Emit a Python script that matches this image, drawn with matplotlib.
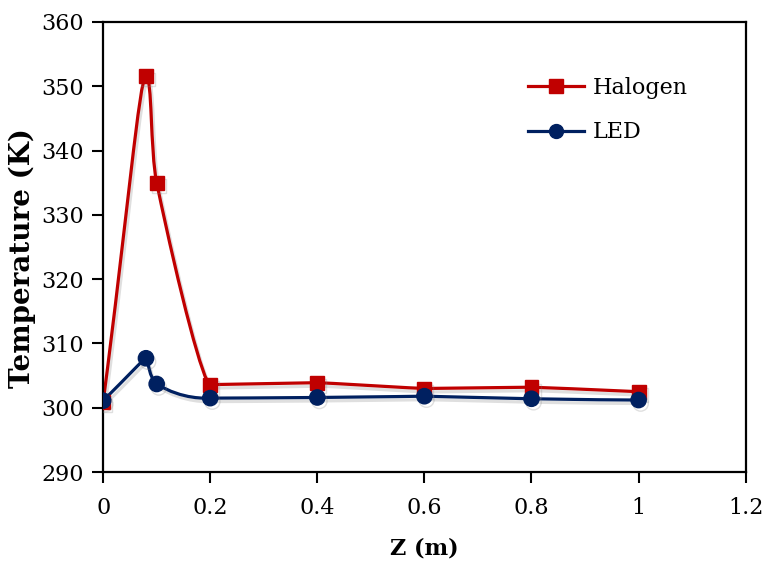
import numpy as np
import matplotlib
matplotlib.use("Agg")
import matplotlib.pyplot as plt
from matplotlib.path import Path
from matplotlib.patches import PathPatch
import matplotlib.patheffects as pe

# datos
z = [0, 0.08, 0.1, 0.2, 0.4, 0.6, 0.8, 1.0]
halogen = [300.9, 351.6, 335.0, 303.6, 303.9, 303.0, 303.2, 302.5]
led = [301.1, 307.7, 303.7, 301.5, 301.6, 301.8, 301.4, 301.2]

RED = "#C00000"
NAVY = "#002060"

plt.rcParams['font.family'] = ['DejaVu Serif']


def smooth_path(ax, x, y, f_out=0.55, f_in=0.3, f_ext=0.06):
    # curva suavizada tipo Excel (Bezier en píxeles); en extremos locales tangente horizontal corta
    pts = ax.transData.transform(np.column_stack([x, y]))
    n = len(pts)
    seg = [np.hypot(*(pts[i + 1] - pts[i])) for i in range(n - 1)]
    out_c, in_c = [], []
    for i in range(n):
        l_in = seg[i - 1] if i > 0 else 0
        l_out = seg[i] if i < n - 1 else 0
        if 0 < i < n - 1 and (y[i] - y[i - 1]) * (y[i + 1] - y[i]) < 0:
            m = f_ext * min(l_in, l_out)
            u = np.array([1.0, 0.0])
            in_c.append(u * m)
            out_c.append(u * m)
        else:
            d = pts[min(i + 1, n - 1)] - pts[max(i - 1, 0)]
            u = d / (np.hypot(*d) + 1e-9)
            in_c.append(u * f_in * l_in)
            out_c.append(u * f_out * l_out)
    verts = [pts[0]]
    codes = [Path.MOVETO]
    for i in range(n - 1):
        verts += [pts[i] + out_c[i], pts[i + 1] - in_c[i + 1], pts[i + 1]]
        codes += [Path.CURVE4] * 3
    verts = ax.transData.inverted().transform(np.array(verts))
    return Path(verts, codes)


fig = plt.figure(figsize=(7.64, 5.64), dpi=100)
ax = fig.add_axes([0.135, 0.163, 0.841, 0.798])
ax.set_xlim(0, 1.2)
ax.set_ylim(290, 360)

shadow = [pe.SimpleLineShadow(offset=(1.5, -2.5), shadow_color='gray', alpha=0.25), pe.Normal()]

for y, col in [(halogen, RED), (led, NAVY)]:
    patch = PathPatch(smooth_path(ax, z, y), facecolor='none', edgecolor=col,
                      lw=2.3, zorder=2, capstyle='round', joinstyle='round')
    patch.set_path_effects(shadow)
    ax.add_patch(patch)

ax.plot(z, halogen, linestyle='none', marker='s', ms=10, color=RED, zorder=3,
        path_effects=shadow)
ax.plot(z, led, linestyle='none', marker='o', ms=11, color=NAVY, zorder=4,
        path_effects=shadow)

# manejadores de leyenda con línea
l1, = ax.plot([], [], '-s', color=RED, lw=2.3, ms=10)
l2, = ax.plot([], [], '-o', color=NAVY, lw=2.3, ms=10)
ax.legend([l1, l2], ['Halogen', 'LED'], loc='upper left',
          bbox_to_anchor=(0.644, 0.902), frameon=False, fontsize=16,
          handlelength=2.5, labelspacing=1.0, borderpad=0, handletextpad=0.4)

ax.set_xticks([0, 0.2, 0.4, 0.6, 0.8, 1.0, 1.2])
ax.set_xticklabels(['0', '0.2', '0.4', '0.6', '0.8', '1', '1.2'])
ax.set_yticks(np.arange(290, 361, 10))
ax.tick_params(axis='both', direction='out', length=8, width=1.5, labelsize=16)
ax.tick_params(axis='x', pad=10)
ax.tick_params(axis='y', pad=6)

for s in ax.spines.values():
    s.set_linewidth(1.6)

ax.set_xlabel('Z (m)', fontsize=16, fontweight='bold')
ax.set_ylabel('Temperature (K)', fontsize=20, fontweight='bold')
ax.xaxis.set_label_coords(0.5, -0.145)
ax.yaxis.set_label_coords(-0.105, 0.476)

fig.savefig('out.png', dpi=100)
